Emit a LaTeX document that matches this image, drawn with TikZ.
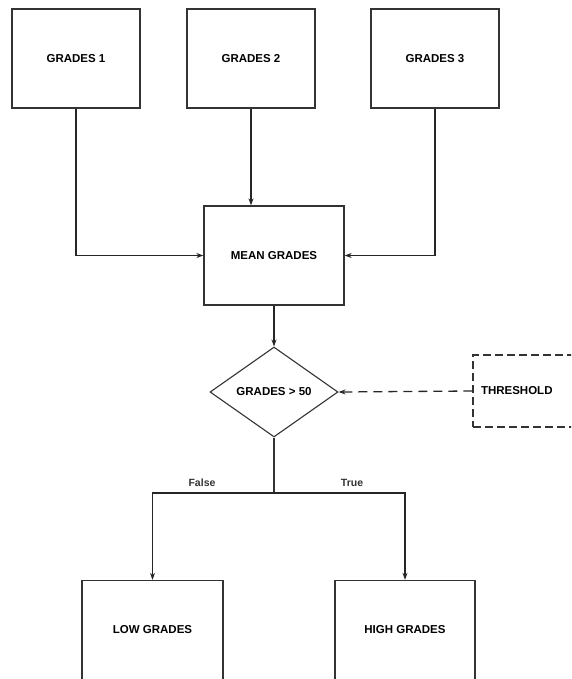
\documentclass[tikz,border=0pt]{standalone}
\usepackage{fontspec}
\setmainfont{Liberation Sans}
\usetikzlibrary{shapes.geometric,arrows.meta,positioning}
\begin{document}
\begin{tikzpicture}[x=1pt,y=1pt,
  box/.style={draw=black!80,line width=1.3pt,fill=white,rectangle,minimum width=128pt,minimum height=99pt,inner sep=0pt,font=\fontsize{11.5}{13}\selectfont\bfseries},
  dbox/.style={draw=black!80,line width=1.3pt,dashed,dash pattern=on 8pt off 4pt,rectangle,inner sep=8pt,font=\fontsize{11.5}{13}\selectfont\bfseries},
  dec/.style={draw=black!80,line width=1.1pt,diamond,minimum width=128pt,minimum height=90pt,inner sep=0pt,font=\fontsize{11.5}{13}\selectfont\bfseries},
  conn/.style={draw=black!85,line width=1.1pt,-{Stealth[length=7pt,width=5pt]}},
  lbl/.style={fill=white,inner sep=1pt,font=\fontsize{10.5}{12}\selectfont\bfseries,text=black!80}]
\useasboundingbox (0,0) rectangle (571,-679);
\clip (0,0) rectangle (571,-679);
\node[box] (g1) at (76,-58.5) {GRADES 1};
\node[box] (g2) at (251,-58.5) {GRADES 2};
\node[box] (g3) at (435,-58.5) {GRADES 3};
\node[box,minimum width=140pt] (mean) at (274,-255.5) {MEAN GRADES};
\node[dec] (dia) at (274,-392) {GRADES > 50};
\node[dbox,minimum width=147pt,minimum height=72pt,text width=131pt,align=left] (thr) at (546.5,-391) {THRESHOLD};
\node[box,minimum width=141pt] (low) at (152.5,-630) {LOW GRADES};
\node[box,minimum width=140pt] (high) at (405,-630) {HIGH GRADES};
\coordinate (j) at (274,-493);
\draw[conn] (g1.south) |- (mean.west);
\draw[conn] (g2.south) -- (g2.south |- mean.north);
\draw[conn] (g3.south) |- (mean.east);
\draw[conn] (mean.south) -- (dia.north);
\draw[conn,line width=1.3pt,dash pattern=on 9pt off 6pt] (thr.west) -- (dia.east);
\draw[draw=black!80,line width=2.4pt] (dia.south) -- (j);
\draw[conn] (j) -| (low.north);
\draw[conn] (j) -| (high.north);
\node[lbl] (lf) at (202,-483) {False};
\node[lbl] (lt) at (352,-483) {True};
\end{tikzpicture}
\end{document}
